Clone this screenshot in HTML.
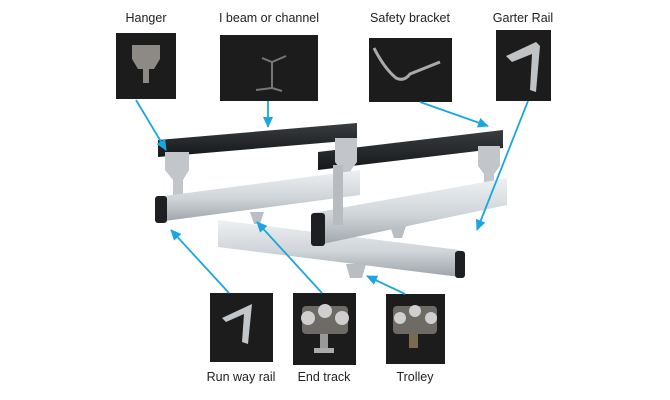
<!DOCTYPE html>
<html><head><meta charset="utf-8"><style>
html,body{margin:0;padding:0;background:#fff;}
svg{display:block;}
text{font-family:"Liberation Sans",Arial,sans-serif;font-size:12.5px;fill:#222;}
</style></head><body>
<svg width="670" height="400" viewBox="0 0 670 400" xmlns="http://www.w3.org/2000/svg">
<defs>
<linearGradient id="al" x1="0" y1="0" x2="0" y2="1">
<stop offset="0" stop-color="#eef1f3"/><stop offset="0.55" stop-color="#cfd4d8"/><stop offset="1" stop-color="#9ea4aa"/></linearGradient>
<linearGradient id="bk" x1="0" y1="0" x2="0" y2="1">
<stop offset="0" stop-color="#3a3d40"/><stop offset="1" stop-color="#15171a"/></linearGradient>
<marker id="ar" markerWidth="11" markerHeight="10" refX="10" refY="5" orient="auto" markerUnits="userSpaceOnUse">
<path d="M0,0 L11,5 L0,10 Z" fill="#1aa7e0"/></marker>
</defs>
<text x="146" y="22" text-anchor="middle">Hanger</text>
<text x="269" y="22" text-anchor="middle">I beam or channel</text>
<text x="410" y="22" text-anchor="middle">Safety bracket</text>
<text x="523" y="22" text-anchor="middle">Garter Rail</text>
<text x="241" y="381" text-anchor="middle">Run way rail</text>
<text x="324" y="381" text-anchor="middle">End track</text>
<text x="415" y="381" text-anchor="middle">Trolley</text>
<rect x="116" y="33" width="60" height="66" fill="#1c1c1c"/>
<path d="M132,45 h28 v14 l-6,10 h-5 v14 h-6 v-14 h-5 l-6,-10z" fill="#8d8a86"/>
<rect x="220" y="35" width="98" height="66" fill="#1c1c1c"/>
<path d="M262,58 l10,4 l14,-6 M272,62 v26 M256,90 l16,-2 l10,3" stroke="#777" stroke-width="2" fill="none"/>
<rect x="369" y="38" width="83" height="64" fill="#1c1c1c"/>
<path d="M374,48 q10,20 22,30 q8,4 14,-4 l30,-12" stroke="#aaa" stroke-width="3" fill="none"/>
<rect x="496" y="30" width="55" height="71" fill="#1c1c1c"/>
<path d="M506,56 l30,-14 l4,4 l-4,46 l-6,-2 l2,-36 l-20,8 z" fill="#bfc3c6"/>
<rect x="210" y="293" width="63" height="69" fill="#1c1c1c"/>
<path d="M222,318 l30,-14 l-4,40 l-6,-2 l2,-28 l-18,8z" fill="#c3c6c9"/>
<rect x="293" y="293" width="63" height="72" fill="#1c1c1c"/>
<rect x="302" y="306" width="46" height="28" rx="4" fill="#6e6a66"/>
<circle cx="308" cy="318" r="7" fill="#cfcfcf"/><circle cx="325" cy="311" r="7" fill="#cfcfcf"/><circle cx="342" cy="318" r="7" fill="#cfcfcf"/>
<rect x="320" y="334" width="8" height="16" fill="#999"/><rect x="314" y="348" width="20" height="5" fill="#aaa"/>
<rect x="386" y="294" width="59" height="70" fill="#1c1c1c"/>
<rect x="393" y="306" width="44" height="28" rx="4" fill="#6e6a66"/>
<circle cx="400" cy="318" r="6" fill="#cfcfcf"/><circle cx="415" cy="311" r="6" fill="#cfcfcf"/><circle cx="431" cy="318" r="6" fill="#cfcfcf"/>
<rect x="409" y="334" width="9" height="14" fill="#7a6a50"/>
<polygon points="158,140 357,123 357,140 158,157" fill="url(#bk)"/>
<polygon points="318,152 503,130 503,148 318,170" fill="url(#bk)"/>
<path d="M165,152 h24 v18 l-6,10 v16 h-10 v-16 l-8,-10z" fill="#c2c6ca"/>
<path d="M335,138 h22 v24 l-6,8 v20 h-10 v-20 l-6,-8z" fill="#c2c6ca"/>
<path d="M478,146 h22 v20 l-6,8 v10 h-10 v-10 l-6,-8z" fill="#c2c6ca"/>
<polygon points="157,197 360,170 360,195 157,222" fill="url(#al)"/>
<rect x="155" y="196" width="12" height="27" rx="3" fill="#1d1f22"/>
<polygon points="218,220 460,250 460,277 218,247" fill="url(#al)"/>
<path d="M250,212 l14,0 l-4,12 h-6z" fill="#b9bec2"/>
<path d="M390,226 l16,0 l-4,12 h-8z" fill="#b9bec2"/>
<path d="M346,264 l20,0 l-4,14 h-12z" fill="#b9bec2"/>
<rect x="455" y="251" width="10" height="27" rx="3" fill="#1d1f22"/>
<polygon points="313,213 507,178 507,205 313,246" fill="url(#al)"/>
<rect x="311" y="213" width="14" height="33" rx="3" fill="#1d1f22"/>
<rect x="333" y="165" width="10" height="60" fill="#b8bcc0"/>
<g stroke="#1aa7e0" stroke-width="1.8" fill="none" marker-end="url(#ar)">
<line x1="136" y1="100" x2="166" y2="150"/>
<line x1="268" y1="101" x2="268" y2="127"/>
<line x1="420" y1="102" x2="488" y2="126"/>
<line x1="528" y1="101" x2="477" y2="230"/>
<line x1="229" y1="293" x2="171" y2="230"/>
<line x1="322" y1="293" x2="257" y2="222"/>
<line x1="405" y1="294" x2="367" y2="276"/>
</g>
</svg>
</body></html>
